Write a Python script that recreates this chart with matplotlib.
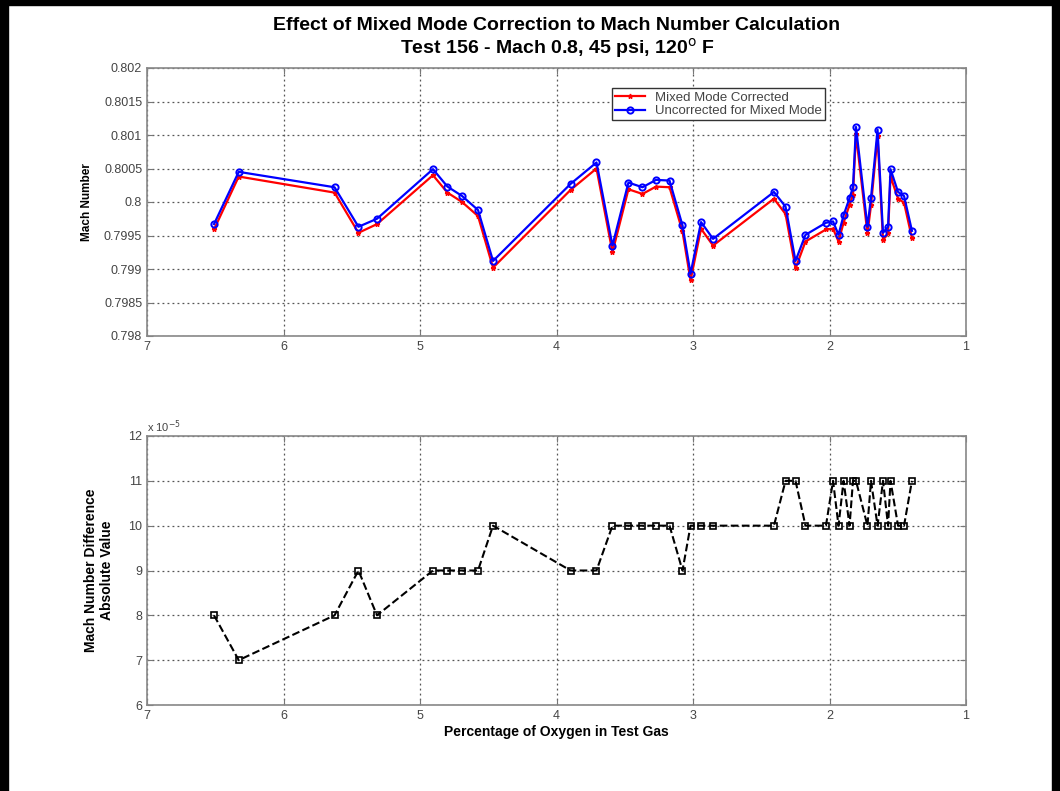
import matplotlib
matplotlib.use('Agg')
import matplotlib.pyplot as plt
from matplotlib.patches import Rectangle
from matplotlib.ticker import FuncFormatter

plt.rcParams['font.family'] = ['Liberation Sans', 'DejaVu Sans']

# percentage of oxygen in test gas
oxygen = [6.509, 6.328, 5.626, 5.451, 5.315, 4.905, 4.799, 4.692, 4.575, 4.465,
          3.897, 3.707, 3.590, 3.473, 3.370, 3.271, 3.172, 3.077, 3.018, 2.941,
          2.853, 2.407, 2.322, 2.249, 2.176, 2.026, 1.974, 1.934, 1.897, 1.853,
          1.828, 1.806, 1.722, 1.696, 1.648, 1.608, 1.571, 1.553, 1.498, 1.454,
          1.396]

# mach number, corrected for mixed mode
mach_corrected = [0.79959, 0.80038, 0.80014, 0.79954, 0.79967, 0.80040, 0.80014, 0.80000, 0.79979, 0.79902,
                  0.80018, 0.80050, 0.79925, 0.80019, 0.80012, 0.80023, 0.80022, 0.79956, 0.79883, 0.79960,
                  0.79935, 0.80005, 0.79982, 0.79901, 0.79941, 0.79959, 0.79960, 0.79941, 0.79969, 0.79996,
                  0.80011, 0.80101, 0.79953, 0.79995, 0.80098, 0.79943, 0.79953, 0.80038, 0.80005, 0.79999,
                  0.79946]

# mach number, uncorrected
mach_uncorrected = [0.79967, 0.80045, 0.80022, 0.79963, 0.79975, 0.80049, 0.80023, 0.80009, 0.79988, 0.79912,
                    0.80027, 0.80059, 0.79935, 0.80029, 0.80022, 0.80033, 0.80032, 0.79965, 0.79893, 0.79970,
                    0.79945, 0.80015, 0.79993, 0.79912, 0.79951, 0.79969, 0.79971, 0.79951, 0.79980, 0.80006,
                    0.80022, 0.80112, 0.79963, 0.80006, 0.80108, 0.79954, 0.79963, 0.80049, 0.80015, 0.80009,
                    0.79957]

# absolute difference, in units of 1e-5
diff_e5 = [8, 7, 8, 9, 8, 9, 9, 9, 9, 10,
           9, 9, 10, 10, 10, 10, 10, 9, 10, 10,
           10, 10, 11, 11, 10, 10, 11, 10, 11, 10,
           11, 11, 10, 11, 10, 11, 10, 11, 10, 10,
           11]

W, H = 1060, 791
fig = plt.figure(figsize=(W / 100, H / 100), dpi=100)

def box(l, t, r, b):
    return [l / W, 1 - b / H, (r - l) / W, (b - t) / H]

ax1 = fig.add_axes(box(147, 68, 966, 336))
ax2 = fig.add_axes(box(147, 436, 966, 705))

# page border
fig.patches.append(Rectangle((0, 0), 8 / W, 1, transform=fig.transFigure, color='black'))
fig.patches.append(Rectangle((0, 1 - 5 / H), 1, 5 / H, transform=fig.transFigure, color='black'))
fig.patches.append(Rectangle((1 - 8 / W, 0), 8 / W, 1, transform=fig.transFigure, color='black'))

ax1.plot(oxygen, mach_corrected, '-', color='red', lw=1.6, marker='*', ms=3.5,
         label='Mixed Mode Corrected')
ax1.plot(oxygen, mach_uncorrected, '-', color='blue', lw=1.6, marker='o', ms=4.5,
         mfc='none', mew=1.4, label='Uncorrected for Mixed Mode')

ax2.plot(oxygen, diff_e5, '--', color='black', lw=1.5, marker='s', ms=4.5,
         mfc='none', mew=1.2)

tick_col = '#444444'
for ax in (ax1, ax2):
    ax.set_xlim(7, 1)
    ax.set_xticks([7, 6, 5, 4, 3, 2, 1])
    ax.grid(True, linestyle=(0, (1.5, 2.5)), color='#555555', lw=0.9)
    ax.tick_params(direction='in', top=True, right=True, labelsize=9,
                   colors='#777777', labelcolor=tick_col, length=4)
    for s in ax.spines.values():
        s.set_color('#888888')
        s.set_linewidth(1.2)

ax1.set_ylim(0.798, 0.802)
ax1.set_yticks([0.798, 0.7985, 0.799, 0.7995, 0.8, 0.8005, 0.801, 0.8015, 0.802])
ax1.yaxis.set_major_formatter(FuncFormatter(lambda v, p: '%g' % round(v, 5)))
ax1.set_ylabel('Mach Number', fontsize=8.5, fontweight='bold', labelpad=8)

ax2.set_ylim(6, 12)
ax2.set_yticks(range(6, 13))
ax2.set_ylabel('Mach Number Difference\nAbsolute Value', fontsize=10, fontweight='bold', labelpad=10)
ax2.set_xlabel('Percentage of Oxygen in Test Gas', fontsize=10, fontweight='bold', labelpad=2)
ax2.text(0.0, 1.005, r'x 10$^{-5}$', transform=ax2.transAxes, fontsize=8,
         color=tick_col, va='bottom', ha='left')

leg = ax1.legend(loc='upper left', bbox_to_anchor=(0.568, 0.925), fontsize=9.5,
                 fancybox=False, edgecolor='#333333', framealpha=1, borderaxespad=0,
                 borderpad=0.25, handlelength=2.2, labelspacing=0.1)
leg.get_frame().set_linewidth(1.0)
for t in leg.get_texts():
    t.set_color('#444444')

fig.text(557 / W, 1 - 25 / H, 'Effect of Mixed Mode Correction to Mach Number Calculation',
         ha='center', va='center', fontsize=14, fontweight='bold')
fig.text(557 / W, 1 - 48 / H, 'Test 156 - Mach 0.8, 45 psi, 120$^{\\rm o}$ F',
         ha='center', va='center', fontsize=14, fontweight='bold')

fig.savefig('out.png', dpi=100)
